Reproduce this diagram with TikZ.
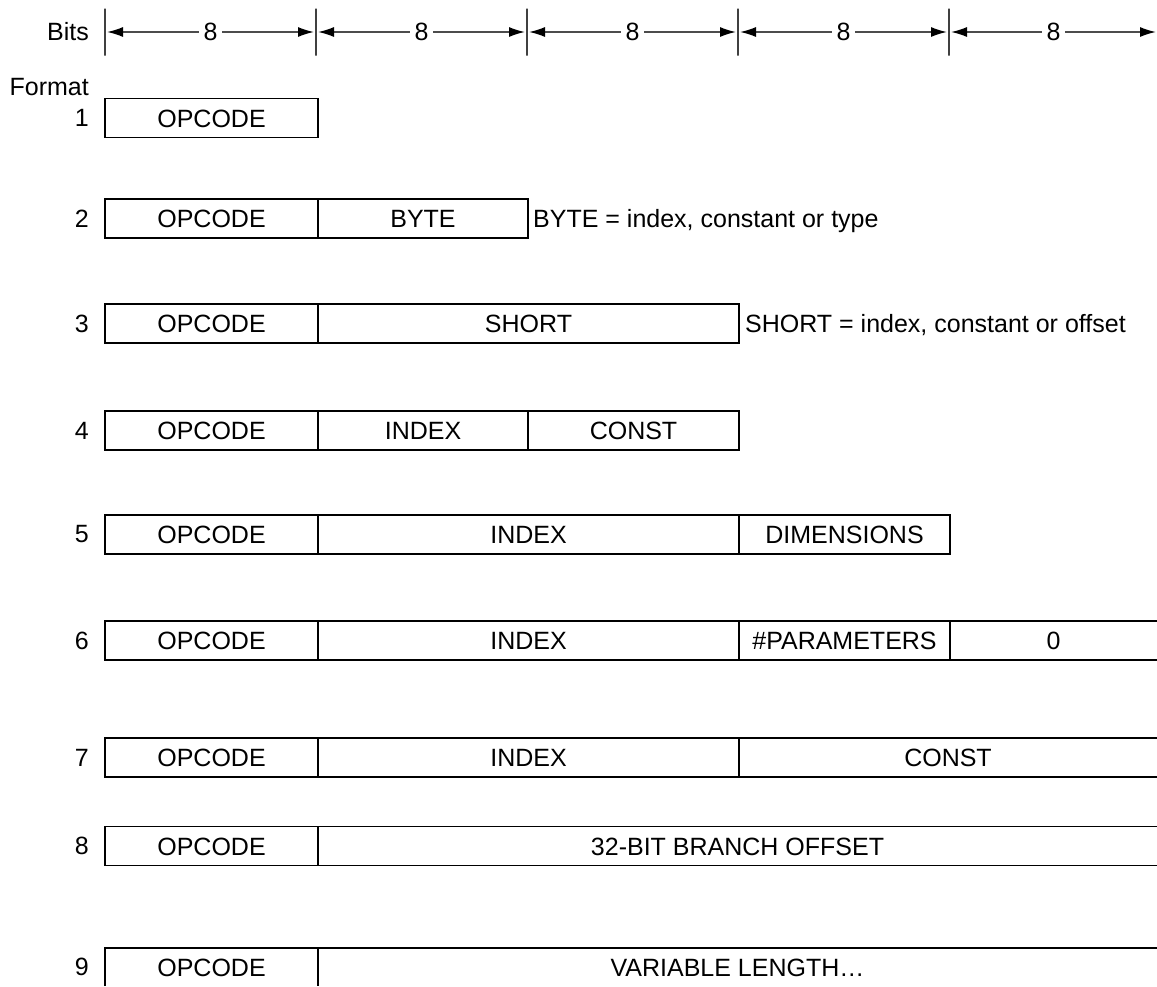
\documentclass[tikz,border=0pt]{standalone}
\usepackage{fontspec}
\setmainfont{Liberation Sans}
\usetikzlibrary{arrows.meta}
\newcommand\fieldbox[6][field]{\node[#1, minimum width={(#4-#3)*1pt}] (#2) at ({(#3+#4)/2},#5) {#6};}
\begin{document}
\begin{tikzpicture}[x=1pt,y=-1pt,
  every node/.style={font=\fontsize{25}{30}\selectfont},
  field/.style={draw=black, line width=1.8pt, minimum height=39pt, inner sep=0pt, outer sep=0pt, text height=18pt, text depth=0pt},
  openfield/.style={field, draw=none},
  rim/.style={draw=black, line width=1.8pt},
  tickmark/.style={draw=black!75, line width=1.6pt, minimum width=0pt, minimum height=47pt, inner sep=0pt, outer sep=2pt},
  tip/.tip={Latex[length=16pt,width=10pt,color=black]},
  dim/.style={draw=black!70, line width=1.5pt, tip-tip},
  dimlabel/.style={fill=white, inner xsep=5pt, inner ysep=2pt},
  lbl/.style={anchor=east, inner sep=0pt},
  note/.style={anchor=base west, inner sep=0pt}
]
\useasboundingbox (0,0) rectangle (1157,986);

% ---- bit scale ----
\node[lbl] (bits) at (89,32) {Bits};
\node[tickmark] (k0) at (105,32) {};
\node[tickmark] (k1) at (316,32) {};
\node[tickmark] (k2) at (527,32) {};
\node[tickmark] (k3) at (738,32) {};
\node[tickmark] (k4) at (949,32) {};
\coordinate (kend) at (1156,32);
\draw[dim] (k0) -- node[dimlabel] (d1) {8} (k1);
\draw[dim] (k1) -- node[dimlabel] (d2) {8} (k2);
\draw[dim] (k2) -- node[dimlabel] (d3) {8} (k3);
\draw[dim] (k3) -- node[dimlabel] (d4) {8} (k4);
\draw[dim] (k4) -- node[dimlabel] (d5) {8} (kend);

\node[anchor=base east, inner sep=0pt] (format) at (89,95) {Format};

% ---- row 1 ----
\node[lbl] (n1) at (89,118) {1};
\fieldbox{r1a}{105}{318}{118}{OPCODE}

% ---- row 2 ----
\node[lbl] (n2) at (89,218.5) {2};
\fieldbox{r2a}{105}{318}{218.5}{OPCODE}
\fieldbox{r2b}{318}{528}{218.5}{BYTE}
\node[note] (t2) at (533,227.5) {BYTE = index, constant or type};

% ---- row 3 ----
\node[lbl] (n3) at (89,323.5) {3};
\fieldbox{r3a}{105}{318}{323.5}{OPCODE}
\fieldbox{r3b}{318}{739}{323.5}{SHORT}
\node[note] (t3) at (745,332.5) {SHORT = index, constant or offset};

% ---- row 4 ----
\node[lbl] (n4) at (89,430.5) {4};
\fieldbox{r4a}{105}{318}{430.5}{OPCODE}
\fieldbox{r4b}{318}{528}{430.5}{INDEX}
\fieldbox{r4c}{528}{739}{430.5}{CONST}

% ---- row 5 ----
\node[lbl] (n5) at (89,534.5) {5};
\fieldbox{r5a}{105}{318}{534.5}{OPCODE}
\fieldbox{r5b}{318}{739}{534.5}{INDEX}
\fieldbox{r5c}{739}{950}{534.5}{DIMENSIONS}

% ---- row 6 ----
\node[lbl] (n6) at (89,640.5) {6};
\fieldbox{r6a}{105}{318}{640.5}{OPCODE}
\fieldbox{r6b}{318}{739}{640.5}{INDEX}
\fieldbox{r6c}{739}{950}{640.5}{\#PARAMETERS}
\fieldbox[openfield]{r6d}{950}{1157}{640.5}{0}
\draw[rim] (r6d.north west) -- (r6d.north east) (r6d.south west) -- (r6d.south east);

% ---- row 7 ----
\node[lbl] (n7) at (89,757.5) {7};
\fieldbox{r7a}{105}{318}{757.5}{OPCODE}
\fieldbox{r7b}{318}{739}{757.5}{INDEX}
\fieldbox[openfield]{r7c}{739}{1157}{757.5}{CONST}
\draw[rim] (r7c.north west) -- (r7c.north east) (r7c.south west) -- (r7c.south east);

% ---- row 8 ----
\node[lbl] (n8) at (89,846) {8};
\fieldbox{r8a}{105}{318}{846}{OPCODE}
\fieldbox[openfield]{r8b}{318}{1157}{846}{32-BIT BRANCH OFFSET}
\draw[rim] (r8b.north west) -- (r8b.north east) (r8b.south west) -- (r8b.south east);

% ---- row 9 ----
\node[lbl] (n9) at (89,967) {9};
\fieldbox[openfield, minimum height=38pt]{r9a}{105}{318}{967}{OPCODE}
\fieldbox[openfield, minimum height=38pt]{r9b}{318}{1157}{967}{VARIABLE LENGTH…}
\draw[rim] (r9a.south west) -- (r9a.north west) -- (r9b.north east);
\draw[rim] (r9a.north east) -- (r9a.south east);
\end{tikzpicture}
\end{document}
